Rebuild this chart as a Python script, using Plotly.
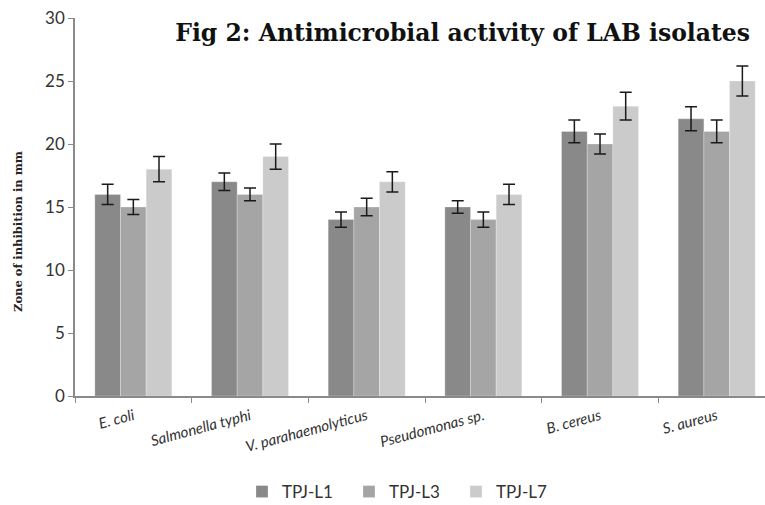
import plotly.graph_objects as go

categories = ["E. coli", "Salmonella typhi", "V. parahaemolyticus", "Pseudomonas sp.", "B. cereus", "S. aureus"]
series_names = ["TPJ-L1", "TPJ-L3", "TPJ-L7"]
l1_values = [16, 17, 14, 15, 21, 22]
l3_values = [15, 16, 15, 14, 20, 21]
l7_values = [18, 19, 17, 16, 23, 25]
l1_err = [0.8, 0.7, 0.6, 0.5, 0.9, 0.95]
l3_err = [0.6, 0.5, 0.7, 0.6, 0.8, 0.9]
l7_err = [1.0, 1.0, 0.8, 0.8, 1.1, 1.2]
colors = ["#898989", "#a5a5a5", "#cbcbcb"]
y_ticks = [0, 5, 10, 15, 20, 25, 30]

tick_text = [f"<i>{c}</i>" for c in categories]

fig = go.Figure()
for name, vals, errs, col in zip(series_names, [l1_values, l3_values, l7_values],
                                  [l1_err, l3_err, l7_err], colors):
    fig.add_trace(go.Bar(
        x=categories, y=vals, name=name,
        marker=dict(color=col, line=dict(color="rgba(255,255,255,0.5)", width=0.5)),
        error_y=dict(type="data", array=errs, visible=True, color="#1a1a1a",
                     thickness=1.5, width=6),
    ))

fig.update_layout(
    width=765, height=505,
    paper_bgcolor="white", plot_bgcolor="white",
    margin=dict(l=75, r=0, t=18, b=109, autoexpand=False),
    barmode="group", bargap=0.34, bargroupgap=0,
    title=dict(text="<b>Fig 2: Antimicrobial activity of LAB isolates</b>",
               font=dict(family="DejaVu Serif", size=23.5, color="#111111"),
               x=750/765, xanchor="right", xref="container",
               y=1 - 33/505, yanchor="middle", yref="container"),
    showlegend=True,
    legend=dict(orientation="h", x=(242-75)/690, xanchor="left", y=-0.254, yanchor="middle",
                font=dict(family="Lato", size=17, color="#333333"),
                entrywidth=62, entrywidthmode="pixels", traceorder="normal"),
    font=dict(family="Lato", color="#404040"),
    annotations=[dict(text="<b>Zone of inhibition in mm</b>", textangle=-90,
                      xref="paper", yref="paper", x=(18-75)/690, y=(396-232)/378,
                      xanchor="center", yanchor="middle", showarrow=False,
                      font=dict(family="DejaVu Serif", size=11.5, color="#222222"))],
)
fig.update_xaxes(
    range=[-0.5, 5.414], type="category", automargin=False,
    showline=True, linecolor="#8a8a8a", linewidth=1.5,
    ticks="outside", ticklen=5, tickcolor="#8a8a8a", tickson="boundaries",
    tickvals=categories, ticktext=tick_text, tickangle=-15, ticklabelstandoff=4,
    tickfont=dict(family="Lato", size=15, color="#333333"),
    showgrid=False,
)
fig.update_yaxes(
    range=[0, 30], tickvals=y_ticks, automargin=False,
    showline=True, linecolor="#8a8a8a", linewidth=1.5,
    ticks="outside", ticklen=5, tickcolor="#8a8a8a",
    tickfont=dict(family="Lato", size=17, color="#333333"),
    showgrid=False, zeroline=False,
)

fig.write_html("out.html", config={"displayModeBar": False},
               post_script="document.body.style.margin='0';")
